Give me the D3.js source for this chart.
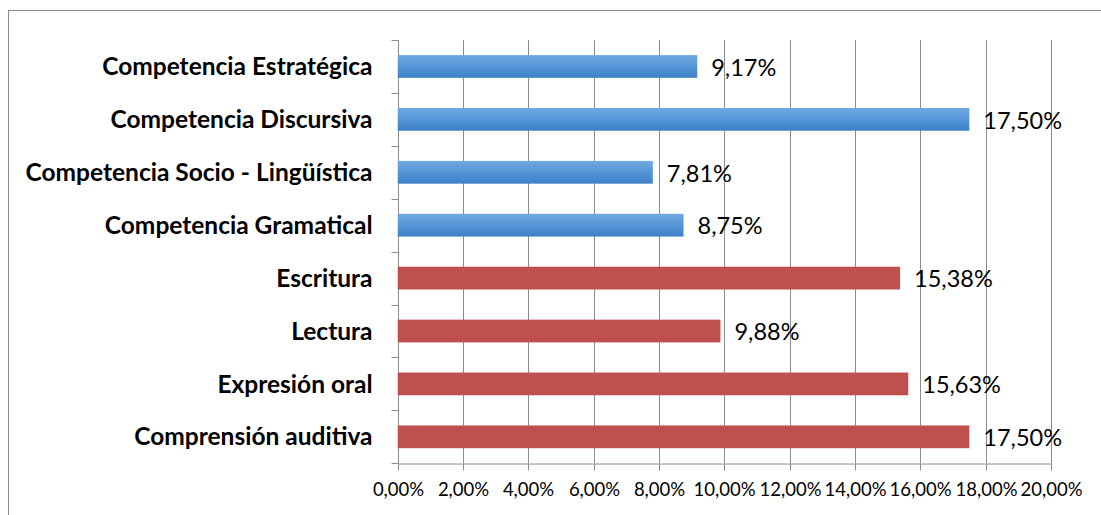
<!DOCTYPE html>
<html><head><meta charset="utf-8">
<script src="https://cdn.jsdelivr.net/npm/d3@7"></script>
<style>body{margin:0;background:#fff}svg{display:block}</style>
</head><body>
<script>
const categories = ["Competencia Estratégica","Competencia Discursiva","Competencia Socio - Lingüística","Competencia Gramatical","Escritura","Lectura","Expresión oral","Comprensión auditiva"];
const values = [9.17, 17.50, 7.81, 8.75, 15.38, 9.88, 15.63, 17.50];
const groups = ["blue","blue","blue","blue","red","red","red","red"];
const tickValues = [0,2,4,6,8,10,12,14,16,18,20];
const fmt = v => v.toFixed(2).replace(".", ",") + "%";

const W = 1101, H = 515;
const FONT = "Lato, 'Open Sans', sans-serif";
const svg = d3.select("body").append("svg").attr("width", W).attr("height", H);
const defs = svg.append("defs");
const g = defs.append("linearGradient").attr("id","blueGrad").attr("x1",0).attr("y1",0).attr("x2",0).attr("y2",1);
g.append("stop").attr("offset","0%").attr("stop-color","#72a9e0");
g.append("stop").attr("offset","50%").attr("stop-color","#5596d8");
g.append("stop").attr("offset","100%").attr("stop-color","#3d80c6");

svg.append("rect").attr("x",8.5).attr("y",10.5).attr("width",W).attr("height",H)
  .attr("fill","#fff").attr("stroke","#8c8c8c").attr("stroke-width",1);

const x0 = 397.7, x1 = 1051, y0 = 40, y1 = 463.3;
const x = d3.scaleLinear().domain([0,20]).range([x0,x1]);
const y = d3.scaleBand().domain(categories).range([y0,y1]).paddingInner(0.57).paddingOuter(0.285);
const yb = d3.scaleBand().domain(categories).range([y0,y1]);

// gridlines
svg.append("g").selectAll("line").data(tickValues.slice(1)).join("line")
  .attr("x1",d=>Math.round(x(d))+0.5).attr("x2",d=>Math.round(x(d))+0.5)
  .attr("y1",y0).attr("y2",y1).attr("stroke","#8c8c8c").attr("stroke-width",1);

// x axis
const xa = svg.append("g").attr("transform",`translate(0,${Math.round(y1)+0.5})`)
  .call(d3.axisBottom(x).tickValues(tickValues).tickFormat(fmt).tickSizeInner(7).tickSizeOuter(0).tickPadding(12));
xa.select(".domain").attr("stroke","#8c8c8c");
xa.selectAll(".tick line").attr("stroke","#8c8c8c");
xa.selectAll(".tick").attr("transform",d=>`translate(${Math.round(x(d))+0.5},0)`);
xa.selectAll("text").attr("font-family",FONT).attr("font-size","18.5px").attr("fill","#000");

// y axis (ticks at band boundaries)
const ya = svg.append("g").attr("transform",`translate(${Math.round(x0)+0.5},0)`);
ya.append("line").attr("y1",y0).attr("y2",y1).attr("stroke","#8c8c8c");
const bounds = categories.map(c=>yb(c)).concat([y1]);
ya.selectAll("line.t").data(bounds).join("line").attr("class","t")
  .attr("x1",-7).attr("x2",0).attr("y1",d=>Math.round(d)+0.5).attr("y2",d=>Math.round(d)+0.5).attr("stroke","#8c8c8c");
ya.selectAll("text").data(categories).join("text")
  .attr("x",-26).attr("y",d=>yb(d)+yb.bandwidth()/2).attr("dy","0.35em")
  .attr("text-anchor","end").attr("font-family",FONT)
  .attr("font-weight","bold").attr("font-size","24.5px").attr("fill","#000").text(d=>d);

// bars
svg.append("g").selectAll("rect").data(categories).join("rect")
  .attr("x",x0).attr("y",d=>y(d)).attr("height",y.bandwidth())
  .attr("width",(d,i)=>x(values[i])-x0)
  .attr("fill",(d,i)=>groups[i]==="blue"?"url(#blueGrad)":"#c0504d");

// value labels
svg.append("g").selectAll("text").data(categories).join("text")
  .attr("x",(d,i)=>x(values[i])+14).attr("y",d=>y(d)+y.bandwidth()/2+1).attr("dy","0.35em")
  .attr("font-family",FONT).attr("font-size","23.5px").attr("fill","#000")
  .text((d,i)=>fmt(values[i]));
</script>
</body></html>
